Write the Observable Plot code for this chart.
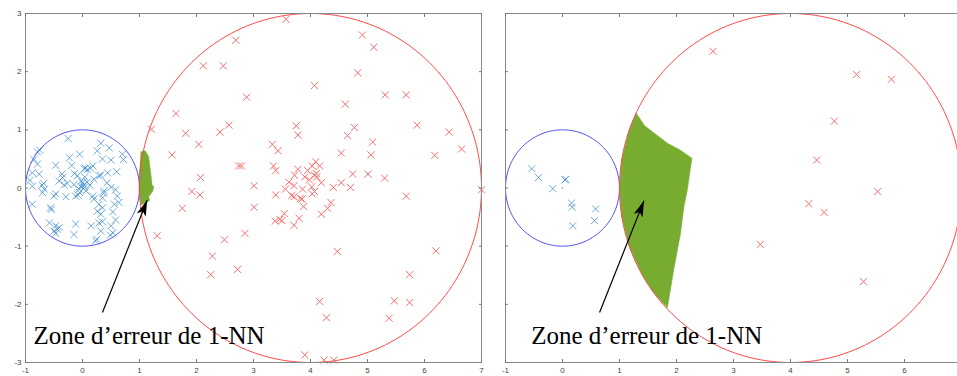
<!DOCTYPE html>
<html>
<head>
<meta charset="utf-8">
<script src="https://cdn.jsdelivr.net/npm/d3@7"></script>
<script src="https://cdn.jsdelivr.net/npm/@observablehq/plot@0.6"></script>
<style>
  html, body { margin: 0; padding: 0; background: #fff; }
  #wrap { position: relative; width: 957px; height: 376px; overflow: hidden; background: #fff; }
  #wrap svg { position: absolute; top: 0; background: transparent; }
</style>
</head>
<body>
<div id="wrap"></div>
<script>
// ---- data -------------------------------------------------------------
// class A samples (blue), full training set
const blueLeft = [
  [-0.25,0.85],[0.32,0.77],[0.47,0.69],[0.26,0.64],[0.70,0.58],[0.72,0.49],[0.35,0.50],[0.50,0.48],
  [-0.79,0.62],[-0.23,0.52],[-0.47,0.39],[-0.19,0.39],[0.18,0.38],[0.09,0.32],[0.03,0.33],[-0.79,0.41],
  [-0.88,0.26],[-0.76,0.24],[0.44,0.26],[0.29,0.21],[0.20,0.15],[-0.35,0.18],[-0.41,0.12],[-0.32,0.05],
  [-0.09,0.21],[0.00,0.09],[-0.03,0.03],[0.03,0.01],[-0.06,-0.02],[0.06,-0.05],[-0.71,0.05],[-0.67,-0.02],
  [-0.88,0.03],[-0.70,-0.08],[-0.50,-0.14],[-0.29,-0.15],[-0.12,-0.14],[0.18,-0.14],[0.20,-0.19],[0.38,-0.05],
  [0.35,-0.17],[0.50,0.01],[0.61,-0.14],[0.29,-0.28],[0.35,-0.34],[0.26,-0.40],[0.32,-0.45],[0.56,-0.28],
  [0.64,-0.25],[0.53,-0.41],[-0.88,-0.28],[-0.56,-0.34],[-0.12,-0.62],[-0.58,-0.60],[-0.47,-0.65],[-0.50,-0.74],
  [-0.41,-0.68],[-0.15,-0.80],[0.15,-0.65],[0.29,-0.60],[0.32,-0.74],[0.50,-0.65],[0.53,-0.77],[0.23,-0.91],
  [0.25,-0.88],[-0.75,0.65],[-0.85,0.49],[-0.05,0.58],[-0.14,0.25],[0.04,0.19],[0.60,0.28],[0.43,0.09],
  [0.58,-0.03],[0.37,-0.09],[0.58,-0.55],[0.35,-0.58],[0.49,-0.81],[-0.44,-0.71],[-0.47,-0.78],[-0.55,-0.37],
  [-0.68,0.08],[-0.47,-0.10],[-0.08,-0.12],[-0.92,0.13],[-0.36,0.24],[-0.27,0.08],[0.13,0.05],[-0.15,0.06],
  [0.32,0.22],[0.14,0.34],[0.05,0.34],[0.02,0.05],[-0.02,0.12],[0.08,0.10],[-0.05,-0.08]
];

// class B samples (red), full training set
const redLeft = [
  [1.21,1.01],[1.64,1.28],[2.12,2.10],[2.47,2.10],[2.69,2.54],[1.81,0.94],[2.41,0.96],[2.57,1.08],
  [2.04,0.75],[1.57,0.57],[2.07,0.18],[1.92,-0.06],[2.06,-0.12],[1.75,-0.35],[1.31,-0.82],[2.49,-0.89],
  [2.28,-1.17],[2.25,-1.49],[2.72,-1.40],[2.74,0.38],[2.79,0.38],[3.01,0.04],[3.01,-0.33],[2.85,-0.78],
  [3.39,-0.12],[3.57,2.90],[2.88,1.56],[3.33,0.75],[3.43,0.64],[3.75,1.07],[3.78,0.91],[4.07,1.76],
  [3.35,0.38],[3.39,0.30],[4.91,2.63],[5.11,2.42],[4.83,1.98],[5.31,1.60],[5.68,1.60],[4.61,1.44],
  [5.87,1.08],[6.43,0.96],[6.65,0.67],[6.18,0.56],[4.77,1.04],[4.65,0.90],[5.09,0.79],[5.06,0.57],
  [4.54,0.60],[3.56,-0.02],[3.71,0.04],[3.72,0.22],[3.78,0.32],[3.90,0.19],[3.86,-0.02],[3.67,-0.13],
  [3.71,-0.15],[3.85,-0.19],[3.88,-0.32],[3.54,-0.44],[3.50,-0.56],[3.38,-0.57],[3.46,-0.54],[3.71,-0.64],
  [3.80,-0.52],[4.03,0.38],[4.09,0.45],[4.16,0.38],[4.07,0.22],[4.11,0.19],[3.98,0.14],[4.02,0.02],
  [4.07,-0.06],[4.03,-0.10],[4.19,0.09],[4.40,0.01],[4.54,0.09],[4.70,0.01],[4.74,0.24],[5.01,0.24],
  [5.30,0.17],[5.68,-0.14],[7.00,-0.03],[4.36,-0.25],[4.30,-0.35],[4.19,-0.45],[4.47,-1.09],[6.20,-1.08],
  [5.74,-1.49],[4.16,-1.95],[4.28,-2.23],[5.47,-1.94],[5.74,-1.97],[5.38,-2.24],[3.90,-2.87],[4.24,-2.96],
  [4.41,-2.96],[4.10,0.25],[3.95,0.30],[3.62,0.10],[3.82,-0.18]
];

// reduced training set
const blueRight = [
  [-0.54,0.33],[-0.42,0.18],[-0.17,-0.01],[0.04,0.14],[0.06,0.15],
  [0.16,-0.26],[0.17,-0.33],[0.58,-0.36],[0.56,-0.56],[0.18,-0.65]
];
const redRight = [
  [2.64,2.35],[5.16,1.95],[5.77,1.87],[4.77,1.15],[4.46,0.48],
  [5.53,-0.06],[4.32,-0.27],[4.59,-0.42],[3.47,-0.97],[5.28,-1.61]
];

// regions misclassified by the 1-NN rule (polygon vertices)
const zoneLeft = [
  [1.02,0.62],[1.10,0.64],[1.16,0.54],[1.19,0.31],[1.22,0.05],[1.25,0.02],[1.23,-0.06],
  [1.16,-0.15],[1.18,-0.21],[1.10,-0.26],[1.03,-0.29],[0.99,-0.03],[1.00,0.31]
];
const zoneRight = [
  [1.29,1.29],[1.44,1.07],[1.84,0.77],[2.07,0.65],[2.27,0.51],[2.19,-0.03],[2.13,-0.32],
  [2.07,-0.78],[1.95,-1.41],[1.84,-2.06],[1.60,-1.80],[1.40,-1.50],[1.17,-1.00],
  [1.04,-0.50],[1.00,0.00],[1.04,0.50],[1.17,1.00]
];

// class supports: [centre x, centre y, radius]
const blueSupport = [0, 0, 1];
const redSupport = [4, 0, 3];

const xTicksLeft = [-1, 0, 1, 2, 3, 4, 5, 6, 7];
const xTicksRight = [-1, 0, 1, 2, 3, 4, 5, 6];
const yTicks = [-3, -2, -1, 0, 1, 2, 3];

const labelText = "Zone d\u2019erreur de 1-NN";
const labelLeft = [-0.86, -2.54];
const labelRight = [-0.55, -2.54];
const arrowLeft = [0.35, -2.14, 1.135, -0.21];
const arrowRight = [0.65, -2.14, 1.43, -0.22];

// ---- drawing ----------------------------------------------------------
const blueColor = "#2f86cc";
const redColor = "#ff6b6b";
const zoneColor = "#77ac30";

const intFormat = (d) => (d < 0 ? "-" + Math.abs(d) : String(d));

function ring([cx, cy, r]) {
  return d3.range(0, 361, 2).map((a) => {
    const t = (a * Math.PI) / 180;
    return [cx + r * Math.cos(t), cy + r * Math.sin(t)];
  });
}

// filled, notched arrow head
function arrowHead(color, context) {
  const m = d3.create("svg:marker")
    .attr("viewBox", "-16 -5 17 10")
    .attr("markerWidth", 17)
    .attr("markerHeight", 10)
    .attr("markerUnits", "userSpaceOnUse")
    .attr("refX", 0)
    .attr("refY", 0)
    .attr("orient", "auto")
    .attr("fill", "black")
    .attr("stroke", "none");
  m.append("path").attr("d", "M-16,-4.8L0,0L-16,4.8L-12,0Z");
  return m.node();
}

function panel({blue, red, zone, label, arrow, xt, showYLabels, width, marginRight}) {
  return Plot.plot({
    width,
    height: 376,
    marginTop: 13,
    marginBottom: 14,
    marginLeft: 25,
    marginRight,
    x: {domain: [-1, 7], label: null},
    y: {domain: [-3, 3], label: null},
    style: {
      background: "transparent",
      fontFamily: "'Liberation Sans', Arial, sans-serif",
      fontSize: "8px",
      color: "#444",
      overflow: "visible"
    },
    marks: [
      Plot.line(zone, {x: "0", y: "1", fill: zoneColor, stroke: zoneColor, strokeWidth: 0.6}),
      Plot.dot([[0, 0]], {x: "0", y: "1", r: 0.8, fill: zoneColor}),
      Plot.line(ring(blueSupport), {x: "0", y: "1", stroke: "#4f4fff", strokeWidth: 1}),
      Plot.line(ring(redSupport), {x: "0", y: "1", stroke: "#ff4a4a", strokeWidth: 1}),
      Plot.dot(blue, {x: "0", y: "1", symbol: "times", r: 3.3, stroke: blueColor, strokeOpacity: 0.7, strokeWidth: 1}),
      Plot.dot(red, {x: "0", y: "1", symbol: "times", r: 3.3, stroke: redColor, strokeWidth: 1}),
      Plot.link([arrow], {x1: "0", y1: "1", x2: "2", y2: "3", stroke: "black", strokeWidth: 1.2, markerEnd: arrowHead}),
      Plot.text([label], {
        x: "0", y: "1", text: () => labelText,
        textAnchor: "start", lineAnchor: "middle",
        fontFamily: "'Liberation Serif', 'Times New Roman', serif",
        fontSize: 25, fill: "black"
      }),
      Plot.frame({stroke: "#888", strokeWidth: 1}),
      Plot.axisX(xt, {anchor: "bottom", tickSize: 0, tickPadding: 5, tickFormat: intFormat, label: null}),
      Plot.axisX(xt, {anchor: "bottom", tickSize: -3, tickFormat: () => "", label: null, stroke: "#777"}),
      Plot.axisX(xt, {anchor: "top", tickSize: -3, tickFormat: () => "", label: null, stroke: "#777"}),
      showYLabels
        ? Plot.axisY(yTicks, {anchor: "left", tickSize: 0, tickPadding: 4, tickFormat: intFormat, label: null})
        : null,
      Plot.axisY(yTicks, {anchor: "left", tickSize: -3, tickFormat: () => "", label: null, stroke: "#777"}),
      Plot.axisY(yTicks, {anchor: "right", tickSize: -3, tickFormat: () => "", label: null, stroke: "#777"})
    ]
  });
}

const wrap = document.getElementById("wrap");

const left = panel({
  blue: blueLeft, red: redLeft, zone: zoneLeft,
  label: labelLeft, arrow: arrowLeft, xt: xTicksLeft,
  showYLabels: true, width: 486, marginRight: 5
});
left.style.left = "0px";
wrap.appendChild(left);

const right = panel({
  blue: blueRight, red: redRight, zone: zoneRight,
  label: labelRight, arrow: arrowRight, xt: xTicksRight,
  showYLabels: false, width: 490, marginRight: 9
});
right.style.left = "480px";
wrap.appendChild(right);
</script>
</body>
</html>
